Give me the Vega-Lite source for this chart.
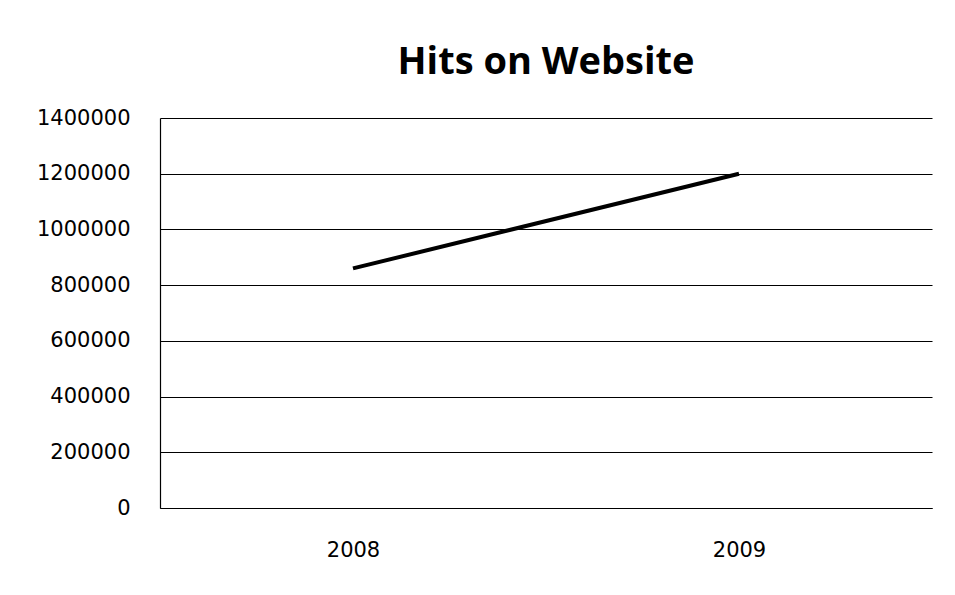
{
  "$schema": "https://vega.github.io/schema/vega-lite/v6.json",
  "width": 772,
  "height": 390,
  "autosize": {"type": "none"},
  "padding": {"left": 160, "top": 118, "right": 23, "bottom": 87},
  "background": "white",
  "title": {
    "text": "Hits on Website",
    "font": "Open Sans",
    "fontSize": 38,
    "fontWeight": "bold",
    "color": "black",
    "anchor": "middle",
    "baseline": "alphabetic",
    "offset": -5
  },
  "config": {
    "view": {"stroke": null},
    "axis": {
      "labelFont": "DejaVu Sans",
      "labelFontSize": 21,
      "labelColor": "black",
      "domainColor": "black",
      "domainWidth": 1.2,
      "gridColor": "black",
      "gridWidth": 1.2,
      "tickColor": "black"
    }
  },
  "data": {
    "values": [
      {"year": "2008", "hits": 860000},
      {"year": "2009", "hits": 1200000}
    ]
  },
  "mark": {"type": "line", "color": "black", "strokeWidth": 4},
  "encoding": {
    "x": {
      "field": "year",
      "type": "ordinal",
      "scale": {"type": "point", "padding": 0.5},
      "axis": {"title": null, "labelAngle": 0, "ticks": false, "labelPadding": 31, "grid": false}
    },
    "y": {
      "field": "hits",
      "type": "quantitative",
      "scale": {"domain": [0, 1400000], "nice": false},
      "axis": {"title": null, "values": [0, 200000, 400000, 600000, 800000, 1000000, 1200000, 1400000], "format": "d", "ticks": false, "labelPadding": 30, "grid": true}
    }
  }
}
